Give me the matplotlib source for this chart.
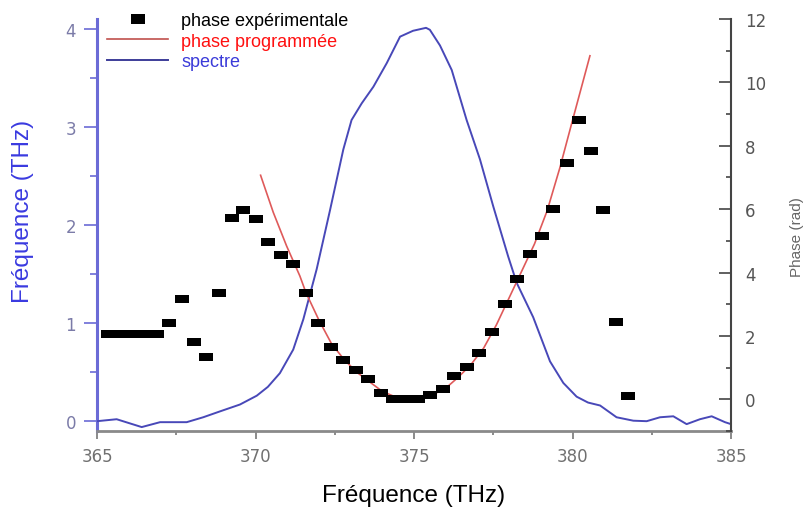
import matplotlib
matplotlib.use("Agg")
import matplotlib.pyplot as plt
from matplotlib.ticker import MultipleLocator

# ---- data ----
exp_freq = [365.34, 365.73, 366.13, 366.51, 366.88, 367.27, 367.67, 368.07, 368.44, 368.86,
            369.25, 369.62, 370.01, 370.40, 370.79, 371.19, 371.59, 371.98, 372.37, 372.77,
            373.17, 373.56, 373.96, 374.35, 374.74, 375.14, 375.50, 375.91, 376.27, 376.68,
            377.06, 377.46, 377.87, 378.26, 378.66, 379.05, 379.39, 379.82, 380.21, 380.58,
            380.97, 381.38, 381.76]
exp_phase = [2.05, 2.05, 2.05, 2.05, 2.05, 2.42, 3.16, 1.82, 1.32, 3.37,
             5.71, 5.98, 5.68, 4.95, 4.55, 4.28, 3.37, 2.40, 1.65, 1.23,
             0.92, 0.63, 0.21, 0.02, 0.02, 0.02, 0.13, 0.34, 0.74, 1.03,
             1.45, 2.13, 3.01, 3.79, 4.58, 5.16, 6.02, 7.47, 8.82, 7.82,
             5.97, 2.44, 0.09]

prog_freq = [370.16, 370.56, 370.98, 371.40, 371.59, 372.0, 372.4, 372.8, 373.2, 373.6,
             374.0, 374.4, 374.8, 375.2, 375.6, 376.0, 376.4, 376.8, 377.2, 377.6,
             378.0, 378.4, 378.8, 379.2, 379.6, 380.0, 380.55]
prog_phase = [7.07, 5.90, 4.84, 3.89, 3.37, 2.50, 1.75, 1.25, 0.85, 0.55,
              0.25, 0.08, 0.0, 0.03, 0.15, 0.35, 0.70, 1.10, 1.62, 2.35,
              3.20, 4.05, 4.90, 5.95, 7.30, 8.80, 10.84]

spec_freq = [365.0, 365.62, 366.41, 366.99, 367.83, 368.35, 368.88, 369.51, 370.04, 370.39,
             370.77, 371.19, 371.51, 371.93, 372.35, 372.77, 373.03, 373.35, 373.72, 374.14,
             374.56, 374.97, 375.38, 375.50, 375.82, 376.19, 376.66, 377.08, 377.50, 377.97,
             378.24, 378.76, 379.29, 379.71, 380.13, 380.49, 380.87, 381.39, 381.92, 382.34,
             382.76, 383.18, 383.60, 384.02, 384.39, 384.81, 385.0]
spec_val = [0.00, 0.02, -0.06, -0.01, -0.01, 0.04, 0.10, 0.17, 0.26, 0.35,
            0.49, 0.73, 1.04, 1.55, 2.15, 2.77, 3.07, 3.24, 3.41, 3.65,
            3.92, 3.98, 4.01, 3.99, 3.83, 3.58, 3.07, 2.67, 2.19, 1.68,
            1.41, 1.06, 0.61, 0.39, 0.25, 0.19, 0.16, 0.04, 0.005, 0.0,
            0.04, 0.05, -0.03, 0.02, 0.05, -0.01, -0.03]

x_ticks = [365, 370, 375, 380, 385]
left_ticks = [0, 1, 2, 3, 4]
right_ticks = [0, 2, 4, 6, 8, 10, 12]

labels = ["phase expérimentale", "phase programmée", "spectre"]
xlabel = "Fréquence (THz)"
ylabel_left = "Fréquence (THz)"
ylabel_right = "Phase (rad)"

# ---- figure ----
W, H = 808, 510
fig = plt.figure(figsize=(W / 100, H / 100), dpi=100)
ax = fig.add_axes([97 / W, 1 - 432 / H, 634 / W, 412 / H])
ax2 = ax.twinx()

blue_spine = "#6b6bd6"

rect = [(-1.5, -1), (1.5, -1), (1.5, 1), (-1.5, 1), (-1.5, -1)]

l_spec, = ax.plot(spec_freq, spec_val, color="#4848b8", lw=1.4, zorder=3)
l_prog, = ax2.plot(prog_freq, prog_phase, color="#df5a5a", lw=1.2, zorder=4)
l_exp, = ax2.plot(exp_freq, exp_phase, ls="none", marker=rect, markersize=9.5,
                  color="black", markeredgewidth=0, zorder=5)

ax.set_xlim(365, 385)
ax.set_ylim(-0.1, 4.1)
ax2.set_ylim(-1, 12)

ax.set_xticks(x_ticks)
ax.xaxis.set_minor_locator(MultipleLocator(2.5))
ax.set_yticks(left_ticks)
ax.yaxis.set_minor_locator(MultipleLocator(0.5))
ax2.set_yticks(right_ticks)
ax2.yaxis.set_minor_locator(MultipleLocator(1))

for a in (ax, ax2):
    a.spines["top"].set_visible(False)
    a.patch.set_visible(False)

ax.spines["left"].set_color(blue_spine)
ax.spines["left"].set_linewidth(2.2)
ax.spines["bottom"].set_color("#8a8a8a")
ax.spines["bottom"].set_linewidth(2.0)
ax.spines["right"].set_visible(False)
ax2.spines["left"].set_visible(False)
ax2.spines["bottom"].set_visible(False)
ax2.spines["right"].set_color("#444444")
ax2.spines["right"].set_linewidth(1.5)

ax.tick_params(axis="y", which="major", direction="out", length=9.5, width=1.2,
               color=blue_spine, pad=5.5, labelcolor="#7b7ba8", labelsize=12)
ax.tick_params(axis="y", which="minor", direction="out", length=5, width=1.2, color=blue_spine)
ax.tick_params(axis="x", which="major", direction="out", length=5.5, width=1.2,
               color="#777777", pad=6, labelcolor="#707070", labelsize=12)
ax.tick_params(axis="x", which="minor", direction="out", length=3, width=1.2, color="#777777")
ax2.tick_params(axis="y", which="major", direction="in", length=9, width=1.2,
                color="#444444", pad=10, labelcolor="#555555", labelsize=12)
ax2.tick_params(axis="y", which="minor", direction="in", length=3.8, width=1.2, color="#444444")

for lab in ax.get_xticklabels() + ax.get_yticklabels() + ax2.get_yticklabels():
    lab.set_family("DejaVu Sans")

fig.text(414 / W, 1 - 496 / H, xlabel, ha="center", va="center",
         fontsize=17.5, family="Liberation Sans", color="black")
fig.text(23 / W, 1 - 211 / H, ylabel_left, ha="center", va="center", rotation=90,
         fontsize=17.5, family="Liberation Sans", color="#3a3ae0")
fig.text(797 / W, 1 - 237 / H, ylabel_right, ha="center", va="center", rotation=90,
         fontsize=11, family="Liberation Sans", color="#666666")

leg = ax2.legend([l_exp, l_prog, l_spec], labels, loc="upper left",
                 bbox_to_anchor=(107 / W, 1 - 13 / H), bbox_transform=fig.transFigure,
                 frameon=False, prop=dict(family="Liberation Sans", size=13),
                 handlelength=3.4, handletextpad=0.7, labelspacing=0.2,
                 borderpad=0, borderaxespad=0, numpoints=1)
for txt, c in zip(leg.get_texts(), ["black", "#ff1010", "#3b3bd9"]):
    txt.set_color(c)
leg.legend_handles[0].set_markersize(10.5)
leg.legend_handles[1].set_color("#c0504d")
leg.legend_handles[2].set_color("#3d3d99")

fig.savefig("out.png", dpi=100)
